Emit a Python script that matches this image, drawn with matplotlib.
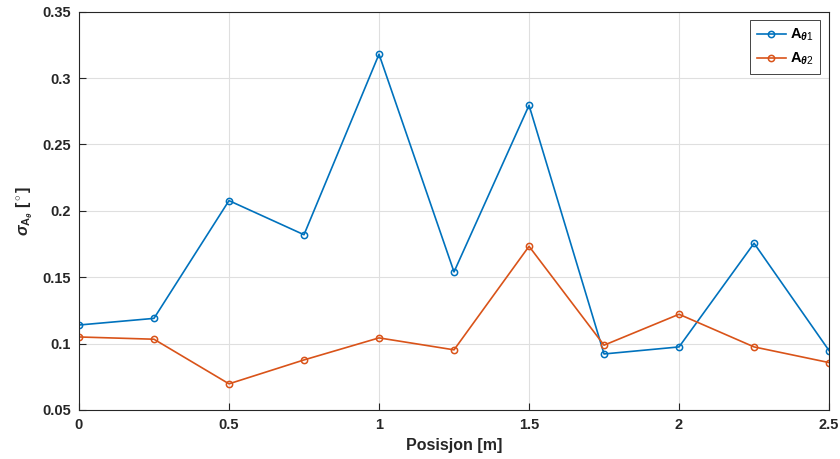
import numpy as np
import matplotlib
matplotlib.use("Agg")
import matplotlib.pyplot as plt

# data
posisjon = [0, 0.25, 0.5, 0.75, 1.0, 1.25, 1.5, 1.75, 2.0, 2.25, 2.5]
a_theta1 = [0.114, 0.119, 0.2077, 0.182, 0.318, 0.154, 0.2795, 0.0922, 0.0975, 0.1756, 0.0947]
a_theta2 = [0.105, 0.1033, 0.0697, 0.0877, 0.1043, 0.0953, 0.1733, 0.0988, 0.1221, 0.0975, 0.0857]

xticks = [0, 0.5, 1, 1.5, 2, 2.5]
xtick_labels = ['0', '0.5', '1', '1.5', '2', '2.5']
yticks = [0.05, 0.1, 0.15, 0.2, 0.25, 0.3, 0.35]
ytick_labels = ['0.05', '0.1', '0.15', '0.2', '0.25', '0.3', '0.35']

plt.rcParams['font.family'] = ['Liberation Sans', 'DejaVu Sans']
plt.rcParams['mathtext.fontset'] = 'custom'
plt.rcParams['mathtext.rm'] = 'Liberation Sans'
plt.rcParams['mathtext.it'] = 'Liberation Sans:italic:bold'
plt.rcParams['mathtext.bf'] = 'Liberation Sans:bold'

blue = '#0072BD'
orange = '#D95319'

fig = plt.figure(figsize=(8.4, 4.59), dpi=100)
ax = fig.add_axes([0.094, 0.1068, 0.893, 0.8677])

ax.plot(posisjon, a_theta1, '-o', color=blue, lw=1.2, ms=4.5, mfc='none', mew=1.1,
        label=r'A$_{\theta1}$')
ax.plot(posisjon, a_theta2, '-o', color=orange, lw=1.2, ms=4.5, mfc='none', mew=1.1,
        label=r'A$_{\theta2}$')

ax.set_xlim(0, 2.5)
ax.set_ylim(0.05, 0.35)
ax.set_xticks(xticks)
ax.set_xticklabels(xtick_labels)
ax.set_yticks(yticks)
ax.set_yticklabels(ytick_labels)
ax.grid(True, color='#dfdfdf', lw=0.8)
ax.set_axisbelow(True)
ax.tick_params(direction='in', length=5, width=0.8, color='#262626', labelsize=10.5,
               labelcolor='#262626', pad=6)
for lab in ax.get_xticklabels() + ax.get_yticklabels():
    lab.set_fontweight('bold')
for sp in ax.spines.values():
    sp.set_color('#262626')
    sp.set_linewidth(0.8)

ax.set_xlabel('Posisjon [m]', fontsize=11.5, fontweight='bold', color='#262626', labelpad=4)
ax.set_ylabel(r'$\sigma_{\mathbf{A}_{\theta}}$ [$^\circ$]', fontsize=11.5, fontweight='bold',
              color='#262626', labelpad=5)

leg = ax.legend(loc='upper right', prop={'weight': 'bold', 'size': 10.5},
                fancybox=False, edgecolor='#262626', framealpha=1, handlelength=2.0,
                handletextpad=0.3, borderpad=0.45, borderaxespad=0.6)
leg.get_frame().set_linewidth(0.6)

fig.savefig('out.png', dpi=100)
